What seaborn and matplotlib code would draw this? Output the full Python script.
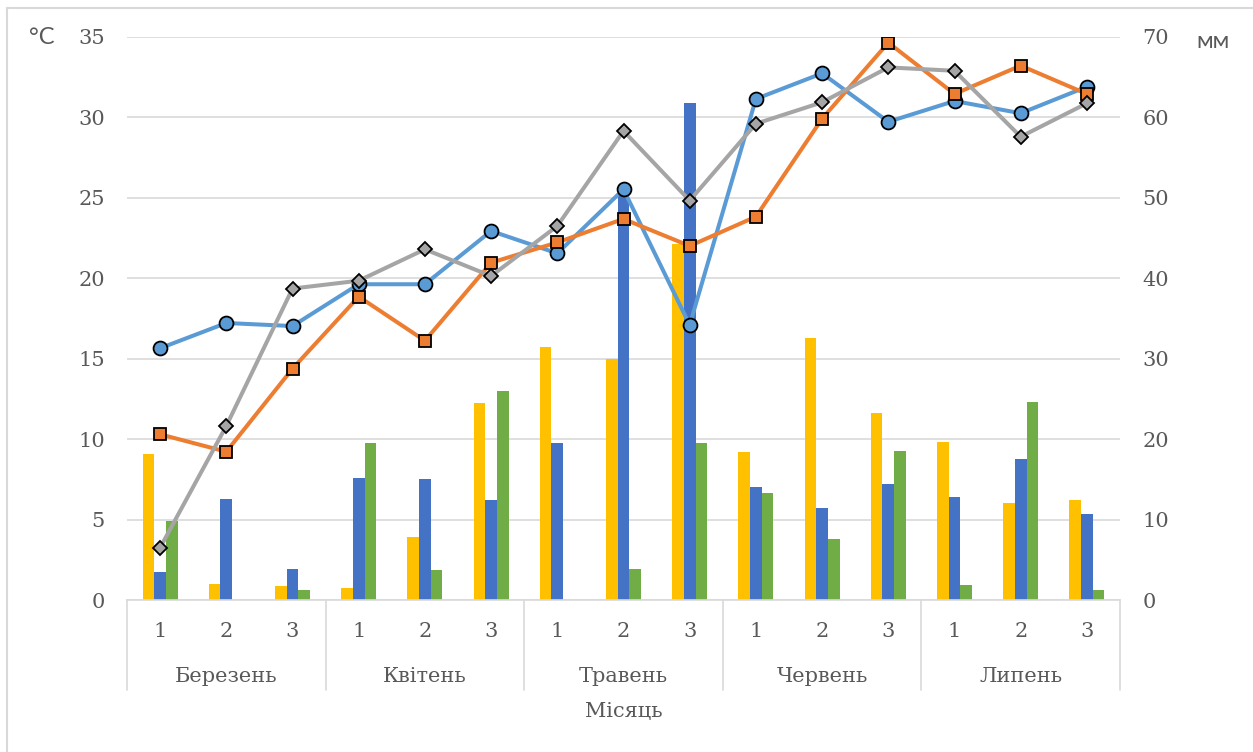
import numpy as np
import pandas as pd
import matplotlib
matplotlib.use("Agg")
import matplotlib.pyplot as plt
import matplotlib.transforms as mtransforms
from matplotlib.lines import Line2D
import seaborn as sns

months = ["Березень", "Квітень", "Травень", "Червень", "Липень"]
decades = ["1", "2", "3"]

# temperature, °C (left axis)
temp_blue = [15.65, 17.22, 17.03, 19.63, 19.63, 22.94, 21.55, 25.53, 17.10, 31.15, 32.74, 29.73, 31.02, 30.26, 31.91]
temp_orange = [10.30, 9.22, 14.38, 18.86, 16.12, 20.97, 22.23, 23.69, 22.01, 23.83, 29.92, 34.65, 31.46, 33.22, 31.46]
temp_gray = [3.25, 10.82, 19.36, 19.85, 21.80, 20.14, 23.25, 29.16, 24.83, 29.61, 30.94, 33.11, 32.90, 28.80, 30.88]

# precipitation, mm (right axis)
rain_yellow = [18.2, 2.0, 1.8, 1.5, 7.8, 24.5, 31.5, 30.0, 44.3, 18.4, 32.6, 23.2, 19.7, 12.1, 12.4]
rain_blue = [3.5, 12.6, 3.8, 15.2, 15.0, 12.4, 19.5, 51.0, 61.8, 14.1, 11.5, 14.4, 12.8, 17.5, 10.7]
rain_green = [9.8, 0.0, 1.2, 19.5, 3.7, 26.0, 0.0, 3.9, 19.5, 13.3, 7.6, 18.5, 1.9, 24.6, 1.2]

sns.set_theme(style="white")
plt.rcParams["font.family"] = ["DejaVu Serif"]

W, H = 1253, 752
cats = [m + " " + d for m in months for d in decades]
xpos = np.arange(len(cats))
grey_txt = "#595959"
grid_c = "#d9d9d9"

fig = plt.figure(figsize=(W / 100, H / 100), dpi=100)
ax = fig.add_axes([127 / W, 1 - 600 / H, (1120 - 127) / W, (600 - 37) / H])
ax2 = ax.twinx()

bars = pd.DataFrame({
    "cat": cats * 3,
    "series": ["y"] * 15 + ["b"] * 15 + ["g"] * 15,
    "mm": rain_yellow + rain_blue + rain_green,
})
sns.barplot(data=bars, x="cat", y="mm", hue="series", order=cats, hue_order=["y", "b", "g"],
            palette=["#FFC000", "#4472C4", "#70AD47"], width=0.53, saturation=1,
            linewidth=0, ax=ax2, legend=False)

for vals, col, mk, ms in [(temp_blue, "#5B9BD5", "o", 10),
                          (temp_orange, "#ED7D31", "s", 9),
                          (temp_gray, "#A5A5A5", "D", 7)]:
    sns.lineplot(x=xpos, y=vals, ax=ax, color=col, linewidth=2.9, marker=mk,
                 markersize=ms, markeredgecolor="black", markeredgewidth=1.3)

ax.set_zorder(ax2.get_zorder() + 1)
ax.patch.set_visible(False)

ax.set_ylim(0, 35)
ax.set_yticks(np.arange(0, 36, 5))
ax2.set_ylim(0, 70)
ax2.set_yticks(np.arange(0, 71, 10))
ax2.set_axisbelow(True)
ax2.yaxis.grid(True, color=grid_c, linewidth=1.2)
ax.grid(False)

ax.set_xlim(-0.5, 14.5)
ax.set_xticks(xpos)
ax.set_xticklabels(decades * 5)
ax.set_xlabel("")
ax.set_ylabel("")
ax2.set_xlabel("")
ax2.set_ylabel("")

ax.tick_params(axis="y", length=0, pad=16, labelsize=15, labelcolor=grey_txt)
ax2.tick_params(axis="y", length=0, pad=16, labelsize=15, labelcolor=grey_txt)
ax.tick_params(axis="x", length=0, pad=16, labelsize=15, labelcolor=grey_txt)

for a in (ax, ax2):
    for s in a.spines.values():
        s.set_visible(False)
ax.spines["bottom"].set_visible(True)
ax.spines["bottom"].set_color(grid_c)
ax.spines["bottom"].set_linewidth(1.2)

trans = mtransforms.blended_transform_factory(ax.transData, ax.transAxes)
for i, m in enumerate(months):
    ax.text(3 * i + 1, (600 - 677) / 563, m, transform=trans, ha="center", va="center",
            fontsize=15, color=grey_txt)
for xb in np.arange(-0.5, 15, 3):
    ax.plot([xb, xb], [0, (600 - 690) / 563], transform=trans, color=grid_c,
            linewidth=1.2, clip_on=False)
ax.text(7, (600 - 712) / 563, "Місяць", transform=trans, ha="center", va="center",
        fontsize=15, color=grey_txt)

fig.text(42 / W, 1 - 37 / H, "°C", family="Lato", fontsize=17, color=grey_txt,
         ha="center", va="center")
fig.text(1213 / W, 1 - 42 / H, "мм", family="Lato", fontsize=17, color=grey_txt,
         ha="center", va="center")

fig.add_artist(Line2D([7 / W, 7 / W], [0, 1 - 8 / H], color=grid_c, linewidth=1.5))
fig.add_artist(Line2D([7 / W, 1], [1 - 8 / H, 1 - 8 / H], color=grid_c, linewidth=1.5))

fig.savefig("out.png", dpi=100)
